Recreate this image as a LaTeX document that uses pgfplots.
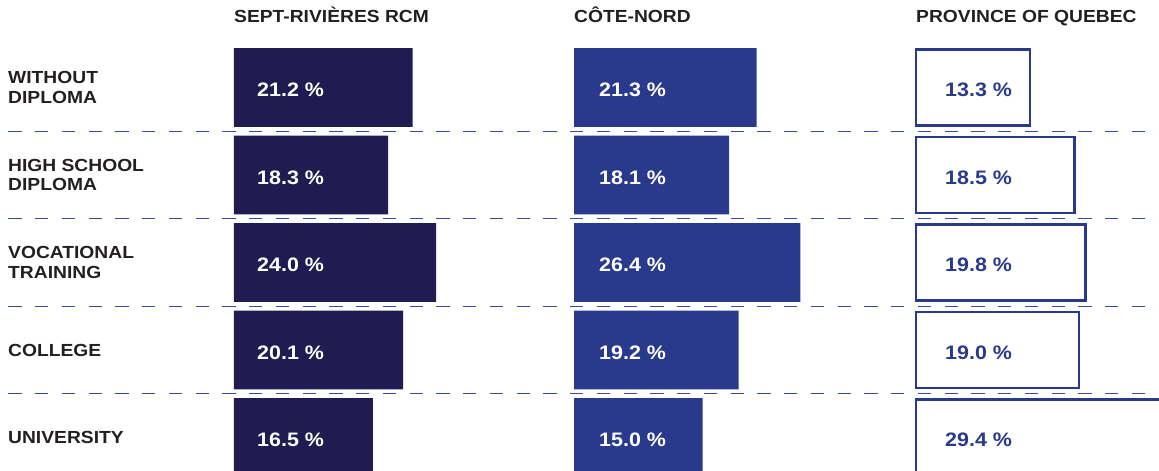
\documentclass[border=0pt]{standalone}
\usepackage{fontspec}
\setmainfont{Liberation Sans}[FakeStretch=1.1]
\usepackage{pgfplots}
\pgfplotsset{compat=1.18}
\usepackage{pgfplotstable}
\definecolor{navy}{RGB}{32,27,80}
\definecolor{cblue}{RGB}{41,58,140}
\definecolor{txt}{RGB}{35,31,32}
\definecolor{dashc}{RGB}{58,72,158}

% y: 4 = Without diploma (top) ... 0 = University (bottom)
\pgfplotstableread{
y v
4 21.2
3 18.3
2 24.0
1 20.1
0 16.5
}\rcm
\pgfplotstableread{
y v
4 21.3
3 18.1
2 26.4
1 19.2
0 15.0
}\cn
\pgfplotstableread{
y v
4 13.3
3 18.5
2 19.8
1 19.0
0 29.4
}\qc

\pgfplotsset{
  panel/.style={
    y=87.5pt, xmin=0, xmax=30, ymin=-0.5, ymax=4.5,
    clip=false, anchor=north west,
    axis line style={draw=none}, tick style={draw=none},
    major tick length=0pt,
    xtick=\empty, ytick=\empty,
    title style={at={(0,1)}, anchor=base west, inner sep=0pt, yshift=15.45pt,
      font=\fontsize{17.5}{20}\selectfont\bfseries, text=txt},
  },
  vals/.style={
    only marks, mark=*, mark size=0pt, mark options={draw=none, fill=none},
    point meta=explicit,
    nodes near coords={\pgfmathprintnumber[fixed,fixed zerofill,precision=1,assume math mode=true]{\pgfplotspointmeta}~\%},
    every node near coord/.append style={anchor=base west, inner sep=0pt,
      yshift=-9.2pt, font=\fontsize{19.5}{22}\selectfont\bfseries},
  },
}

\begin{document}
\begin{tikzpicture}
\useasboundingbox (0,0) rectangle (1159pt,-471pt);
\clip (0,0) rectangle (1159pt,-471pt);
\foreach \yy in {131.25,218.75,306.25,393.75}
  \draw[dashc, line width=1.35pt, dash pattern=on 13.4pt off 13.35pt]
    (8.3pt,-\yy*1pt) -- (1159pt,-\yy*1pt);

\begin{axis}[panel, at={(234pt,-43.75pt)}, x=8.42pt,
  title={SEPT-RIVIÈRES RCM},
  ytick={0,1,2,3,4},
  yticklabels={UNIVERSITY, COLLEGE, {VOCATIONAL\\TRAINING}, {HIGH SCHOOL\\DIPLOMA}, {WITHOUT\\DIPLOMA}},
  yticklabel style={anchor=west, align=left, inner sep=0pt, xshift=-226pt,
    font=\fontsize{17.5}{19.4}\selectfont\bfseries, text=txt},
]
\addplot[xbar, bar shift=0pt, bar width=78.7pt, fill=navy, draw=none] table[x=v, y=y] {\rcm};
\addplot[vals, every node near coord/.append style={xshift=23pt, text=white}] table[x expr=0, y=y, meta=v] {\rcm};
\end{axis}

\begin{axis}[panel, at={(574pt,-43.75pt)}, x=8.57pt,
  title={CÔTE-NORD},
]
\addplot[xbar, bar shift=0pt, bar width=78.7pt, fill=cblue, draw=none] table[x=v, y=y] {\cn};
\addplot[vals, every node near coord/.append style={xshift=25pt, text=white}] table[x expr=0, y=y, meta=v] {\cn};
\end{axis}

\begin{axis}[panel, at={(916pt,-43.75pt)}, x=8.57pt,
  title={PROVINCE OF QUEBEC},
]
\addplot[xbar, bar shift=0pt, bar width=75.8pt, fill=white, draw=cblue, line width=2.4pt] table[x=v, y=y] {\qc};
\addplot[vals, every node near coord/.append style={xshift=29pt, text=cblue}] table[x expr=0, y=y, meta=v] {\qc};
\end{axis}
\end{tikzpicture}
\end{document}
